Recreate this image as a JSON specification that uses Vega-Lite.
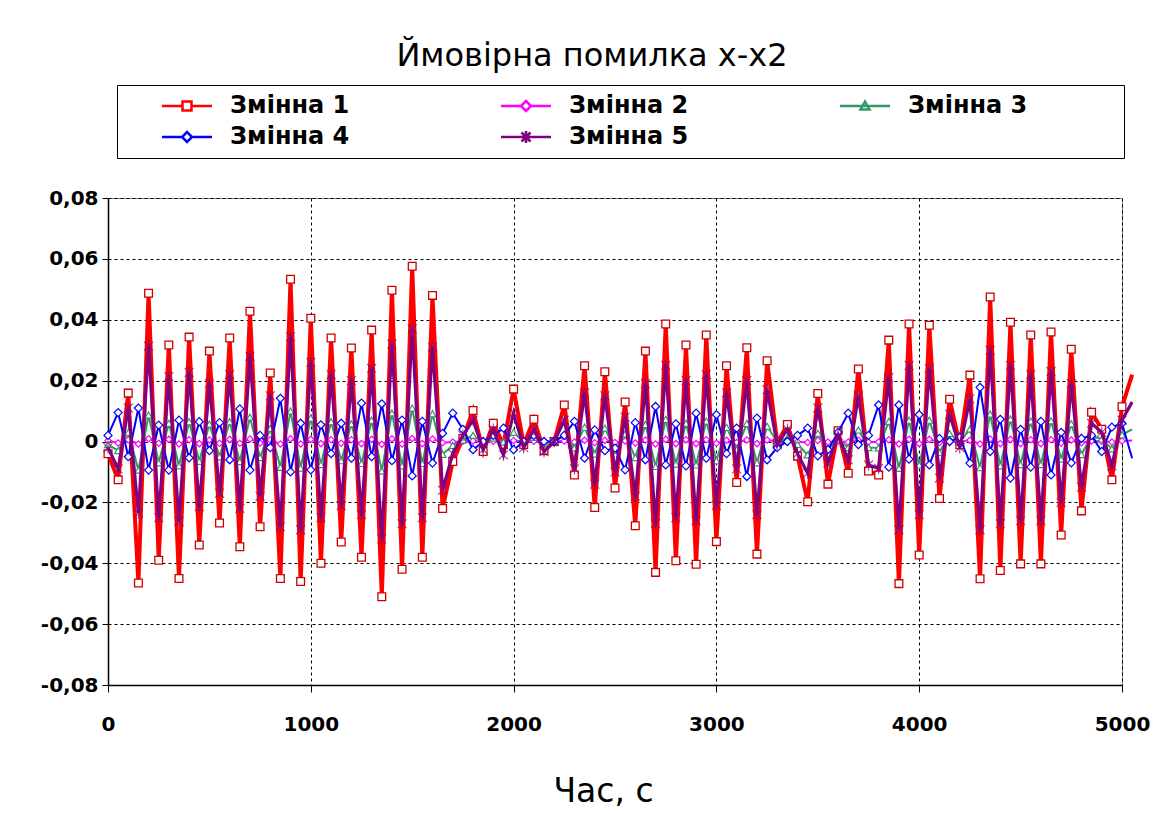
{
"$schema": "https://vega.github.io/schema/vega-lite/v6.json",
"width": 1014, "height": 487,
"autosize": {"type": "none"},
"padding": {"left": 108, "top": 198, "right": 35, "bottom": 129},
"background": "white",
"config": {"font": "DejaVu Sans", "view": {"stroke": "#808080", "strokeWidth": 1}},
"title": {"text": "Ймовірна помилка x-x2", "fontSize": 32, "fontWeight": "normal", "font": "DejaVu Sans", "color": "black", "anchor": "middle", "offset": 12, "dx": -23},
"data": {"values": [
{"t":0,"Змінна 1":-0.004,"Змінна 2":0.0003,"Змінна 3":-0.001,"Змінна 4":0.002,"Змінна 5":-0.002},
{"t":50,"Змінна 1":-0.0126,"Змінна 2":-0.0005,"Змінна 3":-0.003,"Змінна 4":0.0095,"Змінна 5":-0.009},
{"t":100,"Змінна 1":0.0159,"Змінна 2":0.0006,"Змінна 3":0.003,"Змінна 4":-0.005,"Змінна 5":0.011},
{"t":150,"Змінна 1":-0.0465,"Змінна 2":-0.0008,"Змінна 3":-0.0094,"Змінна 4":0.011,"Змінна 5":-0.0235},
{"t":200,"Змінна 1":0.0487,"Змінна 2":0.0009,"Змінна 3":0.0087,"Змінна 4":-0.0094,"Змінна 5":0.0313},
{"t":250,"Змінна 1":-0.039,"Змінна 2":-0.0006,"Змінна 3":-0.007,"Змінна 4":0.0054,"Змінна 5":-0.025},
{"t":300,"Змінна 1":0.0317,"Змінна 2":0.0007,"Змінна 3":0.006,"Змінна 4":-0.0094,"Змінна 5":0.0213},
{"t":350,"Змінна 1":-0.045,"Змінна 2":-0.0008,"Змінна 3":-0.008,"Змінна 4":0.007,"Змінна 5":-0.0263},
{"t":400,"Змінна 1":0.0343,"Змінна 2":0.0006,"Змінна 3":0.0065,"Змінна 4":-0.0054,"Змінна 5":0.0227},
{"t":450,"Змінна 1":-0.034,"Змінна 2":-0.0007,"Змінна 3":-0.0065,"Змінна 4":0.0065,"Змінна 5":-0.0214},
{"t":500,"Змінна 1":0.0297,"Змінна 2":0.0005,"Змінна 3":0.0057,"Змінна 4":-0.003,"Змінна 5":0.019},
{"t":550,"Змінна 1":-0.0268,"Змінна 2":-0.0006,"Змінна 3":-0.005,"Змінна 4":0.0062,"Змінна 5":-0.017},
{"t":600,"Змінна 1":0.034,"Змінна 2":0.0007,"Змінна 3":0.0065,"Змінна 4":-0.006,"Змінна 5":0.022},
{"t":650,"Змінна 1":-0.0346,"Змінна 2":-0.0006,"Змінна 3":-0.0066,"Змінна 4":0.0107,"Змінна 5":-0.022},
{"t":700,"Змінна 1":0.0428,"Змінна 2":0.0008,"Змінна 3":0.008,"Змінна 4":-0.0094,"Змінна 5":0.028},
{"t":750,"Змінна 1":-0.028,"Змінна 2":-0.0005,"Змінна 3":-0.0053,"Змінна 4":0.002,"Змінна 5":-0.018},
{"t":800,"Змінна 1":0.0225,"Змінна 2":0.0005,"Змінна 3":0.0043,"Змінна 4":-0.002,"Змінна 5":0.015},
{"t":850,"Змінна 1":-0.045,"Змінна 2":-0.0008,"Змінна 3":-0.0085,"Змінна 4":0.0142,"Змінна 5":-0.028},
{"t":900,"Змінна 1":0.0533,"Змінна 2":0.0009,"Змінна 3":0.01,"Змінна 4":-0.01,"Змінна 5":0.0344},
{"t":950,"Змінна 1":-0.046,"Змінна 2":-0.0008,"Змінна 3":-0.0087,"Змінна 4":0.006,"Змінна 5":-0.029},
{"t":1000,"Змінна 1":0.0405,"Змінна 2":0.0007,"Змінна 3":0.0077,"Змінна 4":-0.0093,"Змінна 5":0.026},
{"t":1050,"Змінна 1":-0.04,"Змінна 2":-0.0007,"Змінна 3":-0.0076,"Змінна 4":0.0055,"Змінна 5":-0.025},
{"t":1100,"Змінна 1":0.034,"Змінна 2":0.0006,"Змінна 3":0.0065,"Змінна 4":-0.004,"Змінна 5":0.022},
{"t":1150,"Змінна 1":-0.033,"Змінна 2":-0.0006,"Змінна 3":-0.0063,"Змінна 4":0.006,"Змінна 5":-0.021},
{"t":1200,"Змінна 1":0.0307,"Змінна 2":0.0006,"Змінна 3":0.0058,"Змінна 4":-0.0055,"Змінна 5":0.02},
{"t":1250,"Змінна 1":-0.038,"Змінна 2":-0.0007,"Змінна 3":-0.0072,"Змінна 4":0.0126,"Змінна 5":-0.024},
{"t":1300,"Змінна 1":0.0366,"Змінна 2":0.0007,"Змінна 3":0.007,"Змінна 4":-0.005,"Змінна 5":0.024},
{"t":1350,"Змінна 1":-0.051,"Змінна 2":-0.0009,"Змінна 3":-0.0097,"Змінна 4":0.0124,"Змінна 5":-0.032},
{"t":1400,"Змінна 1":0.0497,"Змінна 2":0.0009,"Змінна 3":0.0094,"Змінна 4":-0.0063,"Змінна 5":0.032},
{"t":1450,"Змінна 1":-0.042,"Змінна 2":-0.0008,"Змінна 3":-0.008,"Змінна 4":0.007,"Змінна 5":-0.027},
{"t":1500,"Змінна 1":0.0576,"Змінна 2":0.001,"Змінна 3":0.011,"Змінна 4":-0.0113,"Змінна 5":0.037},
{"t":1550,"Змінна 1":-0.038,"Змінна 2":-0.0007,"Змінна 3":-0.0072,"Змінна 4":0.0066,"Змінна 5":-0.025},
{"t":1600,"Змінна 1":0.048,"Змінна 2":0.0008,"Змінна 3":0.0091,"Змінна 4":-0.0071,"Змінна 5":0.031},
{"t":1650,"Змінна 1":-0.022,"Змінна 2":-0.0004,"Змінна 3":-0.0042,"Змінна 4":0.0027,"Змінна 5":-0.016},
{"t":1700,"Змінна 1":-0.0066,"Змінна 2":-0.0002,"Змінна 3":-0.0013,"Змінна 4":0.0093,"Змінна 5":-0.004},
{"t":1750,"Змінна 1":0.001,"Змінна 2":0.0001,"Змінна 3":0.0005,"Змінна 4":0.004,"Змінна 5":0.002},
{"t":1800,"Змінна 1":0.0102,"Змінна 2":0.0002,"Змінна 3":0.002,"Змінна 4":-0.0027,"Змінна 5":0.007},
{"t":1850,"Змінна 1":-0.0033,"Змінна 2":-0.0001,"Змінна 3":-0.0006,"Змінна 4":0.0,"Змінна 5":-0.0027},
{"t":1900,"Змінна 1":0.006,"Змінна 2":0.0001,"Змінна 3":0.0011,"Змінна 4":0.002,"Змінна 5":0.004},
{"t":1950,"Змінна 1":-0.001,"Змінна 2":0.0,"Змінна 3":-0.0002,"Змінна 4":0.0044,"Змінна 5":-0.0044},
{"t":2000,"Змінна 1":0.0172,"Змінна 2":0.0003,"Змінна 3":0.003,"Змінна 4":-0.0027,"Змінна 5":0.0093},
{"t":2050,"Змінна 1":-0.001,"Змінна 2":0.0,"Змінна 3":-0.0002,"Змінна 4":0.0,"Змінна 5":-0.002},
{"t":2100,"Змінна 1":0.0073,"Змінна 2":0.0001,"Змінна 3":0.0014,"Змінна 4":0.002,"Змінна 5":0.004},
{"t":2150,"Змінна 1":-0.003,"Змінна 2":-0.0001,"Змінна 3":-0.0006,"Змінна 4":0.0,"Змінна 5":-0.0033},
{"t":2200,"Змінна 1":0.0,"Змінна 2":0.0,"Змінна 3":0.0,"Змінна 4":0.0,"Змінна 5":0.0},
{"t":2250,"Змінна 1":0.012,"Змінна 2":0.0002,"Змінна 3":0.0023,"Змінна 4":0.002,"Змінна 5":0.007},
{"t":2300,"Змінна 1":-0.011,"Змінна 2":-0.0002,"Змінна 3":-0.0021,"Змінна 4":0.0066,"Змінна 5":-0.009},
{"t":2350,"Змінна 1":0.0249,"Змінна 2":0.0004,"Змінна 3":0.0047,"Змінна 4":-0.0055,"Змінна 5":0.016},
{"t":2400,"Змінна 1":-0.0217,"Змінна 2":-0.0004,"Змінна 3":-0.0041,"Змінна 4":0.0038,"Змінна 5":-0.014},
{"t":2450,"Змінна 1":0.0229,"Змінна 2":0.0004,"Змінна 3":0.0044,"Змінна 4":-0.003,"Змінна 5":0.015},
{"t":2500,"Змінна 1":-0.0153,"Змінна 2":-0.0003,"Змінна 3":-0.0029,"Змінна 4":-0.0022,"Змінна 5":-0.01},
{"t":2550,"Змінна 1":0.013,"Змінна 2":0.0002,"Змінна 3":0.0025,"Змінна 4":-0.0093,"Змінна 5":0.008},
{"t":2600,"Змінна 1":-0.0277,"Змінна 2":-0.0005,"Змінна 3":-0.0053,"Змінна 4":0.0062,"Змінна 5":-0.018},
{"t":2650,"Змінна 1":0.0297,"Змінна 2":0.0005,"Змінна 3":0.0056,"Змінна 4":-0.006,"Змінна 5":0.019},
{"t":2700,"Змінна 1":-0.043,"Змінна 2":-0.0008,"Змінна 3":-0.0082,"Змінна 4":0.0115,"Змінна 5":-0.027},
{"t":2750,"Змінна 1":0.0386,"Змінна 2":0.0007,"Змінна 3":0.0073,"Змінна 4":-0.0077,"Змінна 5":0.025},
{"t":2800,"Змінна 1":-0.0392,"Змінна 2":-0.0007,"Змінна 3":-0.0074,"Змінна 4":0.0058,"Змінна 5":-0.025},
{"t":2850,"Змінна 1":0.0317,"Змінна 2":0.0006,"Змінна 3":0.006,"Змінна 4":-0.008,"Змінна 5":0.02},
{"t":2900,"Змінна 1":-0.0403,"Змінна 2":-0.0007,"Змінна 3":-0.0077,"Змінна 4":0.0093,"Змінна 5":-0.026},
{"t":2950,"Змінна 1":0.035,"Змінна 2":0.0006,"Змінна 3":0.0067,"Змінна 4":-0.0055,"Змінна 5":0.022},
{"t":3000,"Змінна 1":-0.0329,"Змінна 2":-0.0006,"Змінна 3":-0.0063,"Змінна 4":0.0088,"Змінна 5":-0.021},
{"t":3050,"Змінна 1":0.0249,"Змінна 2":0.0004,"Змінна 3":0.0047,"Змінна 4":-0.004,"Змінна 5":0.016},
{"t":3100,"Змінна 1":-0.0135,"Змінна 2":-0.0003,"Змінна 3":-0.0026,"Змінна 4":0.0044,"Змінна 5":-0.009},
{"t":3150,"Змінна 1":0.0308,"Змінна 2":0.0005,"Змінна 3":0.0059,"Змінна 4":-0.0115,"Змінна 5":0.02},
{"t":3200,"Змінна 1":-0.037,"Змінна 2":-0.0007,"Змінна 3":-0.007,"Змінна 4":0.0077,"Змінна 5":-0.024},
{"t":3250,"Змінна 1":0.0265,"Змінна 2":0.0005,"Змінна 3":0.005,"Змінна 4":-0.006,"Змінна 5":0.017},
{"t":3300,"Змінна 1":-0.0005,"Змінна 2":0.0,"Змінна 3":-0.0001,"Змінна 4":-0.002,"Змінна 5":-0.001},
{"t":3350,"Змінна 1":0.0056,"Змінна 2":0.0001,"Змінна 3":0.0011,"Змінна 4":0.0,"Змінна 5":0.004},
{"t":3400,"Змінна 1":-0.0048,"Змінна 2":-0.0001,"Змінна 3":-0.0009,"Змінна 4":0.002,"Змінна 5":-0.004},
{"t":3450,"Змінна 1":-0.0198,"Змінна 2":-0.0003,"Змінна 3":-0.0044,"Змінна 4":0.0044,"Змінна 5":-0.0104},
{"t":3500,"Змінна 1":0.0158,"Змінна 2":0.0003,"Змінна 3":0.0027,"Змінна 4":-0.0047,"Змінна 5":0.011},
{"t":3550,"Змінна 1":-0.014,"Змінна 2":-0.0002,"Змінна 3":-0.0027,"Змінна 4":-0.0027,"Змінна 5":-0.0071},
{"t":3600,"Змінна 1":0.0035,"Змінна 2":0.0001,"Змінна 3":0.0007,"Змінна 4":0.003,"Змінна 5":0.002},
{"t":3650,"Змінна 1":-0.0104,"Змінна 2":-0.0002,"Змінна 3":-0.002,"Змінна 4":0.0093,"Змінна 5":-0.006},
{"t":3700,"Змінна 1":0.0238,"Змінна 2":0.0004,"Змінна 3":0.0038,"Змінна 4":-0.001,"Змінна 5":0.015},
{"t":3750,"Змінна 1":-0.0097,"Змінна 2":-0.0002,"Змінна 3":-0.002,"Змінна 4":0.002,"Змінна 5":-0.0077},
{"t":3800,"Змінна 1":-0.011,"Змінна 2":-0.0002,"Змінна 3":-0.0021,"Змінна 4":0.012,"Змінна 5":-0.0088},
{"t":3850,"Змінна 1":0.0333,"Змінна 2":0.0006,"Змінна 3":0.0066,"Змінна 4":-0.0084,"Змінна 5":0.021},
{"t":3900,"Змінна 1":-0.0467,"Змінна 2":-0.0008,"Змінна 3":-0.0088,"Змінна 4":0.012,"Змінна 5":-0.029},
{"t":3950,"Змінна 1":0.0386,"Змінна 2":0.0007,"Змінна 3":0.007,"Змінна 4":-0.0058,"Змінна 5":0.025},
{"t":4000,"Змінна 1":-0.0373,"Змінна 2":-0.0007,"Змінна 3":-0.0077,"Змінна 4":0.0088,"Змінна 5":-0.024},
{"t":4050,"Змінна 1":0.0382,"Змінна 2":0.0007,"Змінна 3":0.007,"Змінна 4":-0.0077,"Змінна 5":0.024},
{"t":4100,"Змінна 1":-0.0187,"Змінна 2":-0.0003,"Змінна 3":-0.0036,"Змінна 4":0.001,"Змінна 5":-0.012},
{"t":4150,"Змінна 1":0.0139,"Змінна 2":0.0002,"Змінна 3":0.0026,"Змінна 4":0.0,"Змінна 5":0.009},
{"t":4200,"Змінна 1":-0.0011,"Змінна 2":0.0,"Змінна 3":-0.0002,"Змінна 4":0.0014,"Змінна 5":-0.002},
{"t":4250,"Змінна 1":0.0218,"Змінна 2":0.0004,"Змінна 3":0.0041,"Змінна 4":-0.0071,"Змінна 5":0.014},
{"t":4300,"Змінна 1":-0.0451,"Змінна 2":-0.0008,"Змінна 3":-0.0086,"Змінна 4":0.0178,"Змінна 5":-0.029},
{"t":4350,"Змінна 1":0.0475,"Змінна 2":0.0008,"Змінна 3":0.009,"Змінна 4":-0.0033,"Змінна 5":0.03},
{"t":4400,"Змінна 1":-0.0424,"Змінна 2":-0.0007,"Змінна 3":-0.008,"Змінна 4":0.0073,"Змінна 5":-0.027},
{"t":4450,"Змінна 1":0.0392,"Змінна 2":0.0007,"Змінна 3":0.0074,"Змінна 4":-0.012,"Змінна 5":0.025},
{"t":4500,"Змінна 1":-0.0402,"Змінна 2":-0.0007,"Змінна 3":-0.0076,"Змінна 4":0.004,"Змінна 5":-0.026},
{"t":4550,"Змінна 1":0.035,"Змінна 2":0.0006,"Змінна 3":0.0067,"Змінна 4":-0.0084,"Змінна 5":0.022},
{"t":4600,"Змінна 1":-0.0402,"Змінна 2":-0.0007,"Змінна 3":-0.0076,"Змінна 4":0.0066,"Змінна 5":-0.026},
{"t":4650,"Змінна 1":0.036,"Змінна 2":0.0006,"Змінна 3":0.0068,"Змінна 4":-0.011,"Змінна 5":0.023},
{"t":4700,"Змінна 1":-0.0307,"Змінна 2":-0.0005,"Змінна 3":-0.0058,"Змінна 4":0.003,"Змінна 5":-0.02},
{"t":4750,"Змінна 1":0.0303,"Змінна 2":0.0005,"Змінна 3":0.0058,"Змінна 4":-0.007,"Змінна 5":0.019},
{"t":4800,"Змінна 1":-0.0228,"Змінна 2":-0.0004,"Змінна 3":-0.0043,"Змінна 4":0.001,"Змінна 5":-0.015},
{"t":4850,"Змінна 1":0.0096,"Змінна 2":0.0002,"Змінна 3":0.0018,"Змінна 4":0.002,"Змінна 5":0.006},
{"t":4900,"Змінна 1":0.004,"Змінна 2":0.0001,"Змінна 3":0.0008,"Змінна 4":-0.0033,"Змінна 5":0.003},
{"t":4950,"Змінна 1":-0.0126,"Змінна 2":-0.0002,"Змінна 3":-0.0024,"Змінна 4":0.0047,"Змінна 5":-0.008},
{"t":5000,"Змінна 1":0.0114,"Змінна 2":0.0002,"Змінна 3":0.0022,"Змінна 4":0.006,"Змінна 5":0.007},
{"t":5050,"Змінна 1":0.022,"Змінна 2":0.0003,"Змінна 3":0.004,"Змінна 4":-0.0055,"Змінна 5":0.013}
]},
"transform": [{"fold": ["Змінна 1","Змінна 2","Змінна 3","Змінна 4","Змінна 5"], "as": ["series","v"]}],
"encoding": {
  "x": {"field": "t", "type": "quantitative",
    "scale": {"domain": [0, 5000], "nice": false, "zero": false},
    "axis": {"values": [0,1000,2000,3000,4000,5000], "format": "d", "labelFont": "DejaVu Sans", "labelFontSize": 20, "labelFontWeight": "bold", "labelColor": "black", "labelPadding": 22, "labelFlush": false, "labelOverlap": false,
      "tickSize": 7, "tickColor": "black", "domainColor": "black", "domainWidth": 1.5,
      "grid": true, "gridColor": "black", "gridDash": [3,3], "gridWidth": 1, "gridOpacity": 1,
      "title": "Час, с", "titleFont": "DejaVu Sans", "titleFontSize": 33, "titleFontWeight": "normal", "titleColor": "black", "titlePadding": 41, "titleX": 495, "titleAlign": "center", "titleAnchor": "start"}},
  "y": {"field": "v", "type": "quantitative",
    "scale": {"domain": [-0.08, 0.08], "nice": false},
    "axis": {"values": [-0.08,-0.06,-0.04,-0.02,0,0.02,0.04,0.06,0.08],
      "labelExpr": "datum.value == 0 ? '0' : replace(replace(format(datum.value, '.2f'), '.', ','), '\u2212', '-')",
      "labelFont": "DejaVu Sans", "labelFontSize": 20, "labelFontWeight": "bold", "labelColor": "black", "labelPadding": 4,
      "tickSize": 6, "tickColor": "black", "domainColor": "black", "domainWidth": 1.5,
      "grid": true, "gridColor": "black", "gridDash": [3,3], "gridWidth": 1, "gridOpacity": 1,
      "title": null}},
  "color": {"field": "series", "type": "nominal",
    "scale": {"domain": ["Змінна 1","Змінна 2","Змінна 3","Змінна 4","Змінна 5"], "range": ["#FF0000","#FF00FF","#339966","#0000FF","#800080"]},
    "legend": {"orient": "none", "legendX": 9, "legendY": -113, "columns": 3, "direction": "horizontal", "title": " ", "titleOrient": "right", "titlePadding": 88, "titleFontSize": 10, "strokeColor": "black", "padding": 9,
         "symbolSize": 400, "symbolStrokeWidth": 2.5, "symbolFillColor": "white", "symbolOpacity": 1, "symbolOffset": 49,
         "labelFont": "DejaVu Sans", "labelFontSize": 24, "labelFontWeight": "bold", "labelColor": "black", "labelOffset": 31,
         "columnPadding": 115, "rowPadding": 7}}
},
"layer": [
  {"transform": [{"filter": {"field": "series", "equal": "Змінна 1"}}], "mark": {"type": "line", "strokeWidth": 4}},
  {"transform": [{"filter": {"field": "series", "equal": "Змінна 1"}}, {"filter": "datum.t <= 5000"}], "mark": {"type": "point", "shape": "square", "size": 60, "filled": false, "fill": "white", "fillOpacity": 1, "strokeWidth": 1.3, "stroke": "#CC0000"}},
  {"transform": [{"filter": {"field": "series", "equal": "Змінна 2"}}], "mark": {"type": "line", "strokeWidth": 2}},
  {"transform": [{"filter": {"field": "series", "equal": "Змінна 2"}}, {"filter": "datum.t <= 5000"}], "mark": {"type": "point", "shape": "diamond", "size": 40, "filled": false, "fill": "white", "fillOpacity": 1, "strokeWidth": 1.2}},
  {"transform": [{"filter": {"field": "series", "equal": "Змінна 3"}}], "mark": {"type": "line", "strokeWidth": 2}},
  {"transform": [{"filter": {"field": "series", "equal": "Змінна 3"}}, {"filter": "datum.t <= 5000"}], "mark": {"type": "point", "shape": "triangle-up", "size": 50, "filled": false, "fill": "white", "fillOpacity": 1, "strokeWidth": 1.2}},
  {"transform": [{"filter": {"field": "series", "equal": "Змінна 4"}}], "mark": {"type": "line", "strokeWidth": 2}},
  {"transform": [{"filter": {"field": "series", "equal": "Змінна 4"}}, {"filter": "datum.t <= 5000"}], "mark": {"type": "point", "shape": "diamond", "size": 65, "filled": false, "fill": "white", "fillOpacity": 1, "strokeWidth": 1.2}},
  {"transform": [{"filter": {"field": "series", "equal": "Змінна 5"}}], "mark": {"type": "line", "strokeWidth": 3.2}},
  {"transform": [{"filter": {"field": "series", "equal": "Змінна 5"}}, {"filter": "datum.t <= 5000"}], "mark": {"type": "point", "shape": "M-1,-1L1,1M-1,1L1,-1M0,-1.3L0,1.3", "size": 80, "filled": false, "strokeWidth": 1.2}},
  {"transform": [{"filter": "datum.t == 0"}],
   "mark": {"type": "point", "filled": false, "opacity": 0},
   "encoding": {
     "shape": {"field": "series", "type": "nominal",
       "scale": {"domain": ["Змінна 1","Змінна 2","Змінна 3","Змінна 4","Змінна 5"],
         "range": ["M-2.5,0H-0.45M0.45,0H2.5M-0.45,-0.45H0.45V0.45H-0.45Z", "M-2.5,0H-0.5M0.5,0H2.5M0,-0.5L0.5,0L0,0.5L-0.5,0Z", "M-2.5,0H2.5M0,-0.45L0.45,0.35H-0.45Z", "M-2.5,0H-0.5M0.5,0H2.5M0,-0.5L0.5,0L0,0.5L-0.5,0Z", "M-2.5,0H2.5M-0.45,-0.45L0.45,0.45M-0.45,0.45L0.45,-0.45M0,-0.6V0.6"]},
       "legend": {"orient": "none", "legendX": 9, "legendY": -113, "columns": 3, "direction": "horizontal", "title": " ", "titleOrient": "right", "titlePadding": 88, "titleFontSize": 10, "strokeColor": "black", "padding": 9,
         "symbolSize": 400, "symbolStrokeWidth": 2.5, "symbolFillColor": "white", "symbolOpacity": 1, "symbolOffset": 49,
         "labelFont": "DejaVu Sans", "labelFontSize": 24, "labelFontWeight": "bold", "labelColor": "black", "labelOffset": 31,
         "columnPadding": 115, "rowPadding": 7}}
   }}
]
}
